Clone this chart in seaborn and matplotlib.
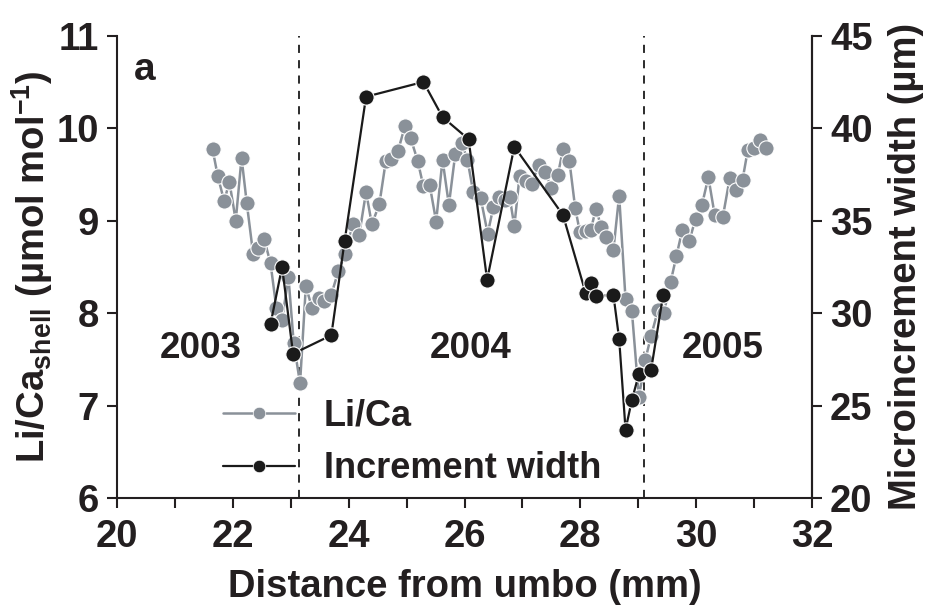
import numpy as np
import matplotlib
matplotlib.use("Agg")
import matplotlib.pyplot as plt
import seaborn as sns
from matplotlib.lines import Line2D

# Li/Ca shell profile (left axis)
lica_x = [21.65, 21.74, 21.85, 21.94, 22.05, 22.15, 22.24, 22.35, 22.44, 22.54,
          22.65, 22.75, 22.85, 22.96, 23.05, 23.16, 23.26, 23.37, 23.48, 23.58,
          23.70, 23.82, 23.94, 24.07, 24.18, 24.30, 24.40, 24.53, 24.64, 24.73,
          24.85, 24.97, 25.07, 25.19, 25.29, 25.40, 25.51, 25.62, 25.73, 25.84,
          25.95, 26.05, 26.15, 26.28, 26.40, 26.50, 26.60, 26.70, 26.78, 26.86,
          26.95, 27.06, 27.16, 27.28, 27.39, 27.50, 27.61, 27.70, 27.81, 27.91,
          27.99, 28.09, 28.18, 28.27, 28.36, 28.45, 28.57, 28.67, 28.78, 28.89,
          29.01, 29.12, 29.22, 29.34, 29.44, 29.56, 29.66, 29.76, 29.88, 29.99,
          30.10, 30.21, 30.32, 30.46, 30.58, 30.69, 30.80, 30.89, 30.99, 31.10,
          31.20]
lica_y = [9.77, 9.48, 9.21, 9.42, 9.00, 9.68, 9.19, 8.64, 8.70, 8.80,
          8.54, 8.06, 7.93, 8.39, 7.68, 7.24, 8.29, 8.05, 8.16, 8.13,
          8.20, 8.45, 8.64, 8.96, 8.84, 9.31, 8.96, 9.18, 9.64, 9.67,
          9.75, 10.02, 9.89, 9.65, 9.37, 9.38, 8.99, 9.66, 9.17, 9.72,
          9.84, 9.66, 9.31, 9.24, 8.86, 9.15, 9.25, 9.22, 9.25, 8.94,
          9.48, 9.43, 9.40, 9.60, 9.53, 9.35, 9.49, 9.77, 9.65, 9.14,
          8.88, 8.89, 8.90, 9.13, 8.93, 8.82, 8.68, 9.27, 8.15, 8.02,
          7.09, 7.49, 7.75, 8.03, 8.00, 8.34, 8.62, 8.90, 8.78, 9.02,
          9.17, 9.47, 9.06, 9.04, 9.46, 9.33, 9.44, 9.76, 9.79, 9.87,
          9.78]

# Microincrement width (right axis)
inc_x = [22.65, 22.85, 23.04, 23.70, 23.93, 24.30, 25.29, 25.62, 26.07, 26.39,
         26.86, 27.70, 28.09, 28.18, 28.27, 28.57, 28.67, 28.78, 28.89, 29.01,
         29.22, 29.43]
inc_y = [29.4, 32.5, 27.8, 28.8, 33.9, 41.7, 42.5, 40.6, 39.4, 31.8,
         39.0, 35.3, 31.1, 31.6, 30.9, 31.0, 28.6, 23.7, 25.3, 26.7,
         26.9, 31.0]

year_bounds = [23.15, 29.1]
year_labels = ["2003", "2004", "2005"]
year_pos = [21.45, 26.1, 30.45]

sns.set_style("ticks")
BLACK = "#231f20"
plt.rcParams["font.family"] = ["Liberation Sans", "DejaVu Sans"]
plt.rcParams["font.weight"] = "bold"
plt.rcParams["text.color"] = BLACK
plt.rcParams["axes.labelcolor"] = BLACK
plt.rcParams["axes.edgecolor"] = BLACK
plt.rcParams["xtick.color"] = BLACK
plt.rcParams["ytick.color"] = BLACK
plt.rcParams["mathtext.fontset"] = "custom"
plt.rcParams["mathtext.rm"] = "Liberation Sans:bold"
plt.rcParams["mathtext.it"] = "Liberation Sans:bold"
plt.rcParams["mathtext.bf"] = "Liberation Sans:bold"

GRAY = "#8a9199"
DARK = "#1a1a1a"

fig = plt.figure(figsize=(9.34, 6.12), dpi=100)
ax = fig.add_axes([0.1253, 0.1863, 0.7441, 0.7554])
ax2 = ax.twinx()

sns.lineplot(x=lica_x, y=lica_y, ax=ax, color=GRAY, estimator=None, sort=False,
             marker="o", markersize=11, markeredgecolor="white",
             markeredgewidth=0.8, linewidth=1.8)
sns.lineplot(x=inc_x, y=inc_y, ax=ax2, color=DARK, estimator=None, sort=False,
             marker="o", markersize=11, markeredgecolor="white",
             markeredgewidth=0.8, linewidth=1.6)

for xb in year_bounds:
    ax.axvline(xb, color=DARK, linestyle=(0, (4.5, 4)), linewidth=1.3, zorder=0)

for lab, xp in zip(year_labels, year_pos):
    ax.text(xp, 7.62, lab, ha="center", va="center", fontsize=26.5, fontweight="bold")
ax.text(20.48, 10.63, "a", ha="center", va="center", fontsize=28, fontweight="bold")

ax.set_xlim(20, 32)
ax.set_ylim(6, 11)
ax2.set_ylim(20, 45)
ax.set_xticks(np.arange(20, 33, 2))
ax.set_xticks(np.arange(20, 33, 1), minor=True)
ax.set_yticks(np.arange(6, 12, 1))
ax2.set_yticks(np.arange(20, 46, 5))

for a in (ax, ax2):
    a.spines["top"].set_visible(False)
    for s in a.spines.values():
        s.set_linewidth(1.5)
    a.tick_params(axis="both", which="both", direction="out", length=7, width=1.5,
                  labelsize=27.5, pad=6, color=BLACK, labelcolor=BLACK)
    for t in a.get_xticklabels() + a.get_yticklabels():
        t.set_fontweight("bold")
ax.tick_params(axis="x", which="both", pad=8)
ax2.spines["left"].set_visible(False)
ax2.spines["bottom"].set_visible(False)

ax.set_xlabel("Distance from umbo (mm)", fontsize=27.5, fontweight="bold", labelpad=10)
ax.set_ylabel(r"Li/Ca$_{shell}$ (µmol mol$^{-1}$)", fontsize=27.5, fontweight="bold",
              labelpad=1)
ax2.set_ylabel("Microincrement width (µm)", fontsize=27.5, fontweight="bold", labelpad=11)

handles = [
    Line2D([], [], color=GRAY, marker="o", markersize=9, markeredgecolor="white",
           markeredgewidth=0.5, linewidth=1.8),
    Line2D([], [], color=DARK, marker="o", markersize=9, markeredgecolor="white",
           markeredgewidth=0.5, linewidth=1.6),
]
leg = ax2.legend(handles, ["Li/Ca", "Increment width"], loc="lower left",
                 bbox_to_anchor=(0.105, -0.045), frameon=False, fontsize=26,
                 handlelength=2.0, handletextpad=0.8, labelspacing=0.5)
for t in leg.get_texts():
    t.set_fontweight("bold")
    t.set_color(BLACK)

fig.savefig("out.png", dpi=100)
